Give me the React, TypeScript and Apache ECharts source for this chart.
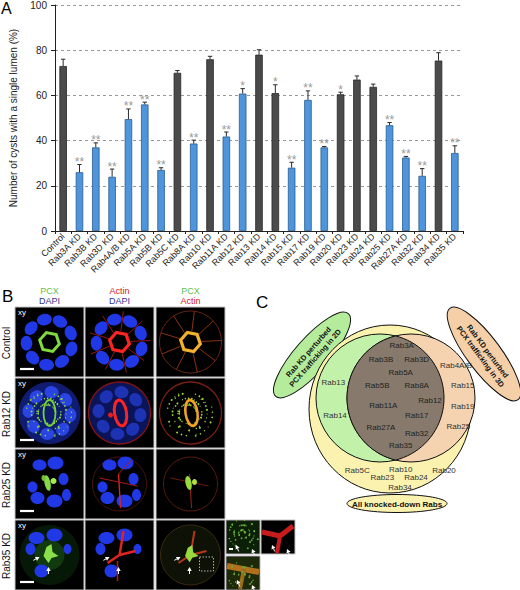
import React, { useEffect, useRef } from 'react';
import * as echarts from 'echarts';

// ---------- Panel A data ----------
const CATEGORIES = ['Control', 'Rab3A KD', 'Rab3B KD', 'Rab3D KD', 'Rab4A/B KD', 'Rab5A KD', 'Rab5B KD', 'Rab5C KD', 'Rab8A KD', 'Rab10 KD', 'Rab11A KD', 'Rab12 KD', 'Rab13 KD', 'Rab14 KD', 'Rab15 KD', 'Rab17 KD', 'Rab19 KD', 'Rab20 KD', 'Rab23 KD', 'Rab24 KD', 'Rab25 KD', 'Rab27A KD', 'Rab32 KD', 'Rab34 KD', 'Rab35 KD'];
const VALUES = [73, 26, 37, 24, 49.5, 56, 27, 70, 38.7, 76, 41.8, 60.8, 78, 61, 28, 58, 37, 60.5, 67, 63.8, 46.8, 32.5, 24.4, 75.4, 34.5];
const ERRORS = [3, 3.4, 2, 3.4, 4.5, 1, 1, 1, 1.5, 1.3, 2, 2.2, 2.2, 3.7, 2.4, 4, 0.4, 0.9, 1.6, 1.2, 1.2, 0.5, 3.2, 3.5, 3.2];
const STARS = ['', '**', '**', '**', '**', '**', '**', '', '**', '', '**', '*', '', '*', '**', '**', '**', '*', '', '', '**', '**', '**', '', '**'];
const PERTURBED_3D = [0, 1, 1, 1, 1, 1, 1, 0, 1, 0, 1, 1, 0, 0, 1, 1, 1, 0, 0, 0, 1, 1, 1, 0, 1];
const Y_NAME = 'Number of cysts with a single lumen (%)';

// ---------- Panel B text ----------
const B_ROW_LABELS = ['Control', 'Rab12 KD', 'Rab25 KD', 'Rab35 KD'];
const B_HEADERS = [['PCX', 'DAPI'], ['Actin', 'DAPI'], ['PCX', 'Actin']];

// ---------- Panel C text ----------
const VENN_CORE = ['Rab3A', 'Rab3B', 'Rab3D', 'Rab5A', 'Rab5B', 'Rab8A', 'Rab12', 'Rab11A', 'Rab17', 'Rab27A', 'Rab32', 'Rab35'];
const VENN_2D = ['Rab13', 'Rab14'];
const VENN_3D = ['Rab4A/B', 'Rab15', 'Rab19', 'Rab25'];
const VENN_OTHER = ['Rab5C', 'Rab10', 'Rab20', 'Rab23', 'Rab24', 'Rab34'];
const LABEL_2D = ['Rab KD perturbed', 'PCX trafficking in 2D'];
const LABEL_3D = ['Rab KD perturbed', 'PCX trafficking in 3D'];
const LABEL_ALL = 'All knocked-down Rabs';

// layout (positions only)
const POS_CORE = [[401.7, 345], [381, 359], [416.7, 359], [400.7, 372.3], [377.3, 385.7], [416.7, 385.7], [430, 400], [383.3, 405.7], [416.7, 415.7], [381, 427.7], [416.7, 433.3], [400.7, 445.3]];
const POS_2D = [[333.3, 382.3], [335, 415.7]];
const POS_3D = [[456, 365.7], [462.7, 385.7], [462.7, 406.7], [458.3, 426.7]];
const POS_OTHER = [[357.3, 470], [400.7, 469.3], [444, 470], [382.3, 477.7], [416, 477.7], [400, 487.7]];

const FONT = 'Liberation Sans, Arial, Helvetica, sans-serif';
const BLUE_BAR = '#4f95dc';
const GRAY_BAR = '#4b4b4b';

function txt(text: string, x: number, y: number, size: number, fill: string, opts: any = {}) {
  return {
    type: 'text', x, y, rotation: opts.rotation || 0, z: opts.z || 10,
    style: {
      text, fill, fontSize: size, fontFamily: FONT, fontWeight: opts.weight || 'normal',
      align: opts.align || 'center', verticalAlign: opts.va || 'middle',
      textAlign: opts.align || 'center', textVerticalAlign: opts.va || 'middle',
    },
  };
}

function ell(cx: number, cy: number, rx: number, ry: number, style: any, rotation = 0, z = 1) {
  return { type: 'ellipse', x: cx, y: cy, rotation, z, shape: { cx: 0, cy: 0, rx, ry }, style };
}
function circ(cx: number, cy: number, r: number, style: any, z = 1) {
  return { type: 'circle', z, shape: { cx, cy, r }, style };
}
function ln(x1: number, y1: number, x2: number, y2: number, stroke: string, w: number, z = 2) {
  return { type: 'line', z, shape: { x1, y1, x2, y2 }, style: { stroke, lineWidth: w } };
}
function poly(cx: number, cy: number, r: number, n: number, rot: number) {
  const pts: number[][] = [];
  for (let k = 0; k < n; k++) {
    const a = rot + (k * 2 * Math.PI) / n;
    pts.push([cx + r * Math.cos(a), cy + r * Math.sin(a)]);
  }
  return pts;
}
function arrow(x: number, y: number, ang: number, z = 6) {
  const L = 4, Wd = 2.2;
  const tip = [x, y];
  const bx = x - L * Math.cos(ang), by = y - L * Math.sin(ang);
  const px = -Math.sin(ang) * Wd, py = Math.cos(ang) * Wd;
  return [
    { type: 'polygon', z, shape: { points: [tip, [bx + px, by + py], [bx - px, by - py]] }, style: { fill: '#fff' } },
    ln(bx, by, bx - 3 * Math.cos(ang), by - 3 * Math.sin(ang), '#fff', 1, z),
  ];
}
function speckles(cx: number, cy: number, r0: number, r1: number, n: number, fill: string, size = 1, z = 3) {
  const out: any[] = [];
  for (let k = 0; k < n; k++) {
    const a = k * 2.39996;
    const rr = r0 + ((k * 7) % 13) / 12 * (r1 - r0);
    out.push(circ(cx + rr * Math.cos(a), cy + rr * Math.sin(a), size * (0.6 + ((k * 3) % 5) / 7), { fill }, z));
  }
  return out;
}

function panelB(): any[] {
  const els: any[] = [];
  const X = [15, 85, 156];
  const Y = [307, 378, 449, 520];
  const W = 69, H = 70;
  const hc = [['#5fbf4a', '#33339a'], ['#d42020', '#33339a'], ['#5fbf4a', '#d42020']];
  B_HEADERS.forEach((h, c) => {
    els.push(txt(h[0], X[c] + W / 2, 291, 9, hc[c][0]));
    els.push(txt(h[1], X[c] + W / 2, 301, 9, hc[c][1]));
  });
  B_ROW_LABELS.forEach((l, r) => {
    els.push(txt(l, 6, Y[r] + 36, 10, '#111', { rotation: Math.PI / 2 }));
  });
  for (let r = 0; r < 4; r++) for (let c = 0; c < 3; c++) {
    els.push({ type: 'rect', z: 0, shape: { x: X[c], y: Y[r], width: W, height: H }, style: { fill: '#000', stroke: '#c4c4c4', lineWidth: 1 } });
  }
  const insets = [[226, 520], [261, 520], [226, 556]];
  insets.forEach(([x, y]) => els.push({ type: 'rect', z: 0, shape: { x, y, width: 34, height: 34 }, style: { fill: '#000', stroke: '#c4c4c4', lineWidth: 1 } }));

  const cen = (c: number, r: number) => [X[c] + W / 2, Y[r] + H / 2];
  const nucRing = (cx: number, cy: number, n: number, R: number, rx: number, ry: number, fill: string, off: number) => {
    const out: any[] = [];
    for (let k = 0; k < n; k++) {
      const a = off + (k * 2 * Math.PI) / n;
      out.push(ell(cx + R * Math.cos(a), cy + R * Math.sin(a), rx, ry, { fill }, -(a + Math.PI / 2), 2));
    }
    return out;
  };

  // Row 1: Control
  {
    let [cx, cy] = cen(0, 0);
    els.push(...nucRing(cx, cy, 9, 23, 7.5, 5.8, '#2138e6', 0.3));
    els.push({ type: 'polygon', z: 3, shape: { points: poly(cx, cy, 10, 6, 0.2) }, style: { fill: 'none', stroke: '#7fdc3c', lineWidth: 3 } });
    [cx, cy] = cen(1, 0);
    els.push(...nucRing(cx, cy, 9, 23, 7.5, 5.8, '#2138e6', 0.3));
    for (let k = 0; k < 9; k++) { const a = 0.3 + (k + 0.5) * 2 * Math.PI / 9; els.push(ln(cx + 11 * Math.cos(a), cy + 11 * Math.sin(a), cx + 31 * Math.cos(a), cy + 31 * Math.sin(a), '#9a1414', 1)); }
    els.push({ type: 'polygon', z: 3, shape: { points: poly(cx, cy, 10, 6, 0.2) }, style: { fill: 'none', stroke: '#ff2424', lineWidth: 3.2 } });
    [cx, cy] = cen(2, 0);
    els.push(circ(cx, cy, 31, { fill: 'none', stroke: '#6a2410', lineWidth: 1 }));
    for (let k = 0; k < 9; k++) { const a = 0.3 + (k + 0.5) * 2 * Math.PI / 9; els.push(ln(cx + 11 * Math.cos(a), cy + 11 * Math.sin(a), cx + 31 * Math.cos(a), cy + 31 * Math.sin(a), '#8a3210', 1)); }
    els.push({ type: 'polygon', z: 3, shape: { points: poly(cx, cy, 10, 6, 0.2) }, style: { fill: 'none', stroke: '#f4b22c', lineWidth: 3.2 } });
  }
  // Row 2: Rab12 KD
  {
    let [cx, cy] = cen(0, 1);
    els.push(circ(cx, cy, 31, { fill: '#101c70' }));
    els.push(...nucRing(cx, cy, 8, 21, 7, 6, '#2a44e4', 0.1));
    els.push(...speckles(cx - 2, cy, 8, 24, 110, '#86d840', 0.8));
    els.push(ell(cx, cy, 6, 13, { fill: 'none', stroke: '#72d03a', lineWidth: 1.8 }, 0, 4));
    [cx, cy] = cen(1, 1);
    els.push(circ(cx, cy, 31, { fill: '#0a1456', stroke: '#801414', lineWidth: 1.4 }));
    els.push(...nucRing(cx, cy, 8, 21, 7, 6, '#1e32b4', 0.1));
    els.push(circ(cx - 9, cy + 2, 2.5, { fill: '#e02020' }, 3));
    els.push(ell(cx + 1, cy, 6, 13, { fill: 'none', stroke: '#ff2424', lineWidth: 3 }, 0.15, 4));
    [cx, cy] = cen(2, 1);
    els.push(circ(cx, cy, 31, { fill: 'none', stroke: '#7a2010', lineWidth: 1.3 }));
    els.push(...speckles(cx - 2, cy, 8, 24, 110, '#9cd836', 0.8));
    els.push(ell(cx + 1, cy, 6, 13, { fill: 'none', stroke: '#f0a226', lineWidth: 2.6 }, 0.15, 4));
  }
  // Row 3: Rab25 KD
  {
    const nucs = [[-10, -19, 7, 5.5], [6, -21, 8, 6.5], [14, -5, 5, 6], [-17, 3, 5, 5.5], [-12, 14, 7, 6], [5, 17, 8, 6.5], [17, 11, 4.5, 6]];
    let [cx, cy] = cen(0, 2);
    nucs.forEach(n => els.push(ell(cx + n[0], cy + n[1], n[2], n[3], { fill: '#2138e6' }, 0, 2)));
    els.push(ell(cx - 2, cy - 1, 3, 8, { fill: '#86d846' }, 0.2, 3));
    els.push(ell(cx + 4, cy - 3, 3, 3, { fill: '#a4ec50' }, 0, 3));
    els.push(ell(cx - 6, cy - 6, 2, 3, { fill: '#70c03a' }, 0, 3));
    [cx, cy] = cen(1, 2);
    els.push(circ(cx, cy, 27, { fill: 'none', stroke: '#4a1010', lineWidth: 1 }));
    nucs.forEach(n => els.push(ell(cx + n[0], cy + n[1], n[2], n[3], { fill: '#2138e6' }, 0, 2)));
    els.push(ln(cx - 1, cy - 10, cx + 1, cy + 24, '#d42424', 1.4, 3));
    els.push(ln(cx - 20, cy - 6, cx + 18, cy + 2, '#a81c1c', 1, 3));
    els.push(ln(cx - 1, cy - 10, cx + 12, cy - 24, '#a81c1c', 1, 3));
    [cx, cy] = cen(2, 2);
    els.push(circ(cx, cy, 27, { fill: 'none', stroke: '#5a1a0c', lineWidth: 1 }));
    els.push(ln(cx - 1, cy - 10, cx + 1, cy + 24, '#9a2412', 1, 3));
    els.push(ln(cx - 20, cy - 6, cx + 18, cy + 2, '#70180c', 1, 3));
    els.push(ell(cx - 2, cy - 1, 3, 7, { fill: '#9ad83c' }, 0.2, 4));
    els.push(ell(cx + 4, cy - 2, 2.5, 3, { fill: '#b0e040' }, 0, 4));
  }
  // Row 4: Rab35 KD
  {
    const nucs = [[-13, -17, 8, 6], [5, -20, 8, 6.5], [-19, -6, 5, 6], [-8, 16, 7, 6.5], [18, -6, 4, 5]];
    const blob = (cx: number, cy: number, s: number) => [[cx - 3 * s, cy - 8 * s], [cx + 2 * s, cy - 11 * s], [cx + 3 * s, cy - 3 * s], [cx + 9 * s, cy + 1 * s], [cx + 2 * s, cy + 3 * s], [cx - 1 * s, cy + 8 * s], [cx - 6 * s, cy + 1 * s]];
    let [cx, cy] = cen(0, 3);
    els.push(circ(cx, cy, 30, { fill: '#061806' }));
    els.push(circ(cx, cy, 15, { fill: '#123a10' }, 1));
    nucs.forEach(n => els.push(ell(cx + n[0], cy + n[1], n[2], n[3], { fill: '#2138e6' }, 0, 2)));
    els.push({ type: 'polygon', z: 3, shape: { points: blob(cx, cy, 1) }, style: { fill: '#8ae04a' } });
    els.push(...arrow(cx - 10, cy + 2, -0.5), ...arrow(cx - 1, cy + 12, -Math.PI / 2));
    [cx, cy] = cen(1, 3);
    nucs.forEach(n => els.push(ell(cx + n[0], cy + n[1], n[2], n[3], { fill: '#2138e6' }, 0, 2)));
    els.push(ln(cx, cy, cx - 12, cy + 8, '#e02424', 2.4, 3));
    els.push(ln(cx, cy, cx + 16, cy - 4, '#e02424', 2.4, 3));
    els.push(ln(cx, cy, cx + 4, cy - 24, '#e02424', 2.4, 3));
    els.push(ln(cx - 2, cy + 6, cx - 2, cy + 26, '#b01a1a', 1.6, 3));
    els.push(...arrow(cx - 10, cy + 2, -0.5), ...arrow(cx - 1, cy + 12, -Math.PI / 2));
    [cx, cy] = cen(2, 3);
    els.push(circ(cx, cy, 30, { fill: '#0e1206', stroke: '#3a2a10', lineWidth: 1 }));
    els.push(ln(cx, cy, cx - 12, cy + 8, '#b83818', 2, 3));
    els.push(ln(cx, cy, cx + 16, cy - 4, '#b83818', 2, 3));
    els.push(ln(cx, cy, cx + 4, cy - 24, '#b83818', 2, 3));
    els.push({ type: 'polygon', z: 4, shape: { points: blob(cx, cy, 0.9) }, style: { fill: '#9ad840' } });
    els.push({ type: 'rect', z: 5, shape: { x: cx + 9, y: cy + 2, width: 14, height: 14 }, style: { fill: 'none', stroke: '#d8d8d8', lineWidth: 0.8, lineDash: [1.5, 1.5] } });
    els.push(...arrow(cx - 10, cy + 2, -0.5), ...arrow(cx - 1, cy + 12, -Math.PI / 2));
    // insets
    els.push({ type: 'rect', z: 1, shape: { x: 227, y: 521, width: 32, height: 32 }, style: { fill: '#0c2008' } });
    els.push(...speckles(243, 533, 2, 16, 70, '#6cb83a', 0.8));
    els.push(...arrow(236, 545, -Math.PI / 2 - 0.4), ...arrow(252, 549, -Math.PI / 2 - 0.4));
    els.push(ln(229, 549, 233, 549, '#fff', 2, 6));
    els.push(ln(262, 532, 280, 536, '#c81c1c', 5, 3));
    els.push(ln(280, 536, 293, 526, '#c81c1c', 5, 3));
    els.push(ln(280, 536, 277, 553, '#c81c1c', 4, 3));
    els.push(...arrow(272, 545, -Math.PI / 2 - 0.4), ...arrow(287, 549, -Math.PI / 2 - 0.4));
    els.push({ type: 'rect', z: 1, shape: { x: 227, y: 557, width: 32, height: 32 }, style: { fill: '#1c2a0a' } });
    els.push(ln(227, 566, 259, 572, '#b0701c', 6, 2));
    els.push(ln(244, 569, 240, 589, '#9a6a1a', 4, 2));
    els.push(...speckles(243, 575, 2, 16, 40, '#6ca83a', 0.8));
    els.push(...arrow(237, 580, -Math.PI / 2 - 0.4), ...arrow(252, 585, -Math.PI / 2 - 0.4));
  }
  for (let r = 0; r < 4; r++) {
    els.push(txt('xy', X[0] + 3, Y[r] + 5, 8, '#fff', { align: 'left', z: 8 }));
    els.push(ln(X[0] + 5, Y[r] + 62, X[0] + 19, Y[r] + 62, '#fff', 2.2, 8));
  }
  return els;
}

function panelC(): any[] {
  const els: any[] = [];
  const a2 = 0.85, a3 = 0.93;
  els.push(ell(312, 355, 55, 17, { fill: '#b4ec9c', stroke: '#111', lineWidth: 1 }, a2, 1));
  els.push(txt(LABEL_2D[0], 312 - 4.5 * Math.sin(a2), 355 - 4.5 * Math.cos(a2), 7.5, '#111', { rotation: a2, weight: 'bold', z: 2 }));
  els.push(txt(LABEL_2D[1], 312 + 4.5 * Math.sin(a2), 355 + 4.5 * Math.cos(a2), 7.5, '#111', { rotation: a2, weight: 'bold', z: 2 }));
  els.push(ell(484, 354, 57, 17, { fill: '#f4cfa8', stroke: '#111', lineWidth: 1 }, -a3, 1));
  els.push(txt(LABEL_3D[0], 484 + 4.5 * Math.sin(a3), 354 - 4.5 * Math.cos(a3), 7.5, '#111', { rotation: -a3, weight: 'bold', z: 2 }));
  els.push(txt(LABEL_3D[1], 484 - 4.5 * Math.sin(a3), 354 + 4.5 * Math.cos(a3), 7.5, '#111', { rotation: -a3, weight: 'bold', z: 2 }));
  els.push(ell(390, 409, 81, 84, { fill: '#fbf2b0', stroke: '#111', lineWidth: 1 }, 0, 3));
  const r = 64, gx = 380, px = 411, cy = 398;
  els.push(circ(gx, cy, r, { fill: '#c2f2aa', stroke: '#111', lineWidth: 1 }, 4));
  els.push(circ(px, cy, r, { fill: '#f5d2b0', stroke: '#111', lineWidth: 1 }, 5));
  const d = px - gx;
  const alpha = Math.atan2(Math.sqrt(r * r - (d / 2) * (d / 2)), d / 2);
  const pts: number[][] = [];
  const N = 40;
  for (let k = 0; k <= N; k++) { const a = -alpha + (2 * alpha * k) / N; pts.push([gx + r * Math.cos(a), cy + r * Math.sin(a)]); }
  for (let k = 0; k <= N; k++) { const a = Math.PI - alpha + (2 * alpha * k) / N; pts.push([px + r * Math.cos(a), cy + r * Math.sin(a)]); }
  els.push({ type: 'polygon', z: 6, shape: { points: pts }, style: { fill: '#877a6c', stroke: '#111', lineWidth: 1 } });
  const put = (names: string[], pos: number[][], color: string) => names.forEach((n, i) => els.push(txt(n, pos[i][0], pos[i][1], 8, color, { z: 12 })));
  put(VENN_CORE, POS_CORE, '#222');
  put(VENN_2D, POS_2D, '#333');
  put(VENN_3D, POS_3D, '#333');
  put(VENN_OTHER, POS_OTHER, '#333');
  els.push(ell(397, 503.5, 50, 9, { fill: '#fbf2b0', stroke: '#111', lineWidth: 1 }, 0, 3));
  els.push(txt(LABEL_ALL, 397, 504, 8, '#111', { weight: 'bold', z: 12 }));
  return els;
}

export default function App() {
  const ref = useRef<HTMLDivElement>(null);
  useEffect(() => {
    if (!ref.current) return;
    const chart = echarts.init(ref.current, undefined, { renderer: 'svg' });
    const barData = VALUES.map((v, i) => ({
      value: v,
      itemStyle: PERTURBED_3D[i]
        ? { color: BLUE_BAR, borderColor: '#2b5c8e', borderWidth: 0.8 }
        : { color: GRAY_BAR, borderColor: '#262626', borderWidth: 0.8 },
    }));
    const errData = VALUES.map((v, i) => [i, v, ERRORS[i]]);
    chart.setOption({
      animation: false,
      textStyle: { fontFamily: FONT },
      grid: { left: 45, right: 57, top: 5, height: 226 },
      xAxis: {
        type: 'category', data: CATEGORIES,
        axisLine: { lineStyle: { color: '#222', width: 1 } },
        axisTick: { show: true, length: 3, lineStyle: { color: '#222' } },
        axisLabel: { rotate: 45, fontSize: 9, color: '#222', margin: 4, interval: 0, fontFamily: FONT },
      },
      yAxis: {
        type: 'value', min: 0, max: 100, interval: 20,
        name: Y_NAME, nameLocation: 'middle', nameGap: 37,
        nameTextStyle: { fontSize: 10, color: '#222', fontFamily: FONT },
        axisLine: { show: true, lineStyle: { color: '#222', width: 1 } },
        axisTick: { show: true, length: 4, lineStyle: { color: '#222' } },
        axisLabel: { fontSize: 10, color: '#222', margin: 8, fontFamily: FONT },
        splitLine: { show: true, lineStyle: { type: [3, 3], color: '#808080', width: 0.8 } },
      },
      series: [
        { type: 'bar', data: barData, barWidth: '46%', z: 2 },
        {
          type: 'custom', z: 3, data: errData,
          renderItem: (params: any, api: any) => {
            const i = params.dataIndex;
            const x = api.value(0), v = api.value(1), e = api.value(2);
            const p0 = api.coord([x, v]);
            const p1 = api.coord([x, v + e]);
            const children: any[] = [
              { type: 'line', shape: { x1: p0[0], y1: p0[1], x2: p1[0], y2: p1[1] }, style: { stroke: '#2a2a2a', lineWidth: 1 } },
              { type: 'line', shape: { x1: p1[0] - 2.2, y1: p1[1], x2: p1[0] + 2.2, y2: p1[1] }, style: { stroke: '#2a2a2a', lineWidth: 1 } },
            ];
            if (STARS[i]) {
              children.push({ type: 'text', x: p1[0], y: p1[1] - 2.5, style: { text: STARS[i], fill: '#9a9a9a', fontSize: 12, fontFamily: FONT, align: 'center', verticalAlign: 'middle', textAlign: 'center', textVerticalAlign: 'middle' } });
            }
            return { type: 'group', children };
          },
        },
      ],
      graphic: [
        txt('A', 1, 0, 16, '#000', { align: 'left', va: 'top' }),
        txt('B', 2, 296, 17, '#000', { align: 'left' }),
        txt('C', 256, 302, 17, '#000', { align: 'left' }),
        ...panelB(),
        ...panelC(),
      ],
    });
    return () => chart.dispose();
  }, []);
  return <div ref={ref} style={{ position: 'absolute', left: 0, top: 0, width: 520, height: 590, background: '#fff' }} />;
}
